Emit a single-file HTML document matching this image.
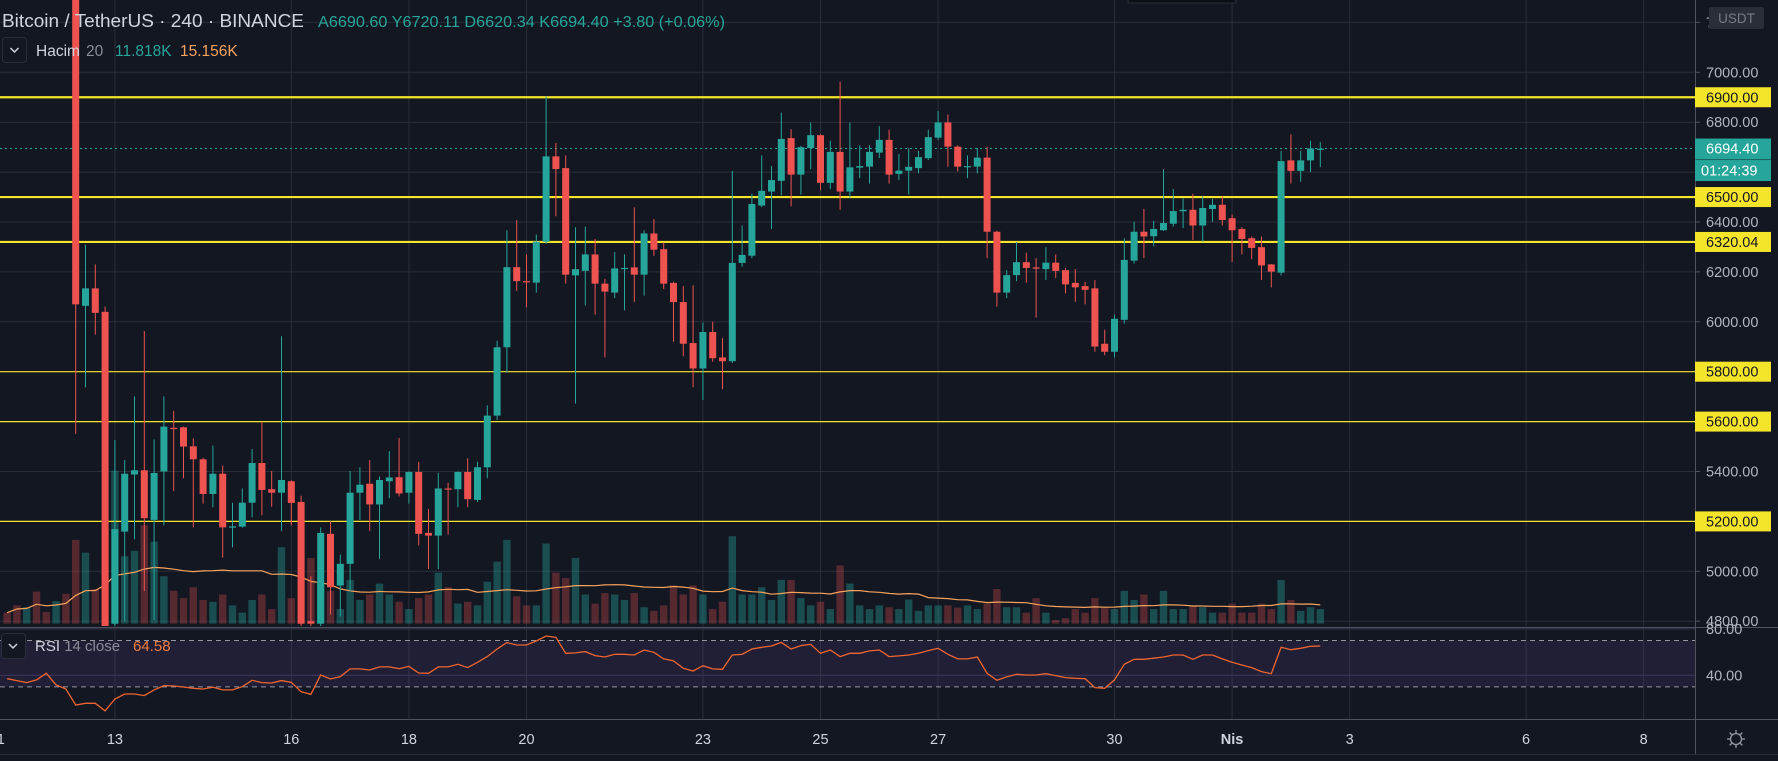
<!DOCTYPE html>
<html><head><meta charset="utf-8"><style>
html,body{margin:0;padding:0;background:#131722;width:1778px;height:761px;overflow:hidden}
svg{display:block;font-family:"Liberation Sans",sans-serif}
</style></head><body>
<svg id="chart" width="1778" height="761" viewBox="0 0 1778 761" xmlns="http://www.w3.org/2000/svg">
<rect x="0" y="0" width="1778" height="761" fill="#131722"/>
<defs>
<clipPath id="mainClip"><rect x="0" y="0" width="1695" height="626"/></clipPath>
<clipPath id="rsiClip"><rect x="0" y="628" width="1695" height="90"/></clipPath>
</defs>
<g id="grid"></g>
<rect x="0" y="640.6" width="1695" height="46.4" fill="#7e57c2" fill-opacity="0.13"/>
<g id="volume" clip-path="url(#mainClip)"></g>
<g id="levels"></g>
<g id="candles" clip-path="url(#mainClip)"></g>
<g id="rsi" clip-path="url(#rsiClip)"></g>
<g id="axes"></g>
<g>
<text x="2" y="27" font-size="18" fill="#d1d4dc" textLength="302" lengthAdjust="spacingAndGlyphs">Bitcoin / TetherUS · 240 · BINANCE</text>
<text x="318" y="27" font-size="15.5" fill="#26a69a" textLength="407" lengthAdjust="spacingAndGlyphs">A6690.60 Y6720.11 D6620.34 K6694.40 +3.80 (+0.06%)</text>
<rect x="2.5" y="37.5" width="24" height="25" rx="3" fill="#131722" stroke="#2a2e39"/>
<path d="M10.5 48 l4 4 l4 -4" stroke="#d1d4dc" stroke-width="1.5" fill="none"/>
<text x="36" y="56" font-size="15.5" fill="#d1d4dc">Hacim</text>
<text x="86" y="56" font-size="15.5" fill="#8a8e99">20</text>
<text x="115" y="56" font-size="15.5" fill="#26a69a">11.818K</text>
<text x="180" y="56" font-size="15.5" fill="#f7a35c">15.156K</text>
<rect x="1128" y="-2" width="108" height="5" fill="#0c0e15" stroke="#2a2e39"/>
</g>
<g>
<rect x="1.5" y="633.5" width="24" height="25" rx="3" fill="#131722" stroke="#2a2e39"/>
<path d="M9 644 l4 4 l4 -4" stroke="#d1d4dc" stroke-width="1.5" fill="none"/>
<text x="35" y="651" font-size="15" fill="#d1d4dc">RSI <tspan fill="#8a8e99">14 close</tspan></text>
<text x="133" y="651" font-size="15" fill="#f57c3b">64.58</text>
</g>
</svg>
<script>
const opens=[7990,7960,7940,7970,7950,7930,7960,
7940,6064,6134,6040,4790,5159,5388,5405,5206,5400,5575,5577,5501,5449,5310,5391,5175,5179,5275,5434,5329,5315,5361,5278,4800,4790,5150,
4943,5030,5315,5351,5268,5361,5377,5315,5398,5154,5143,5332,5329,5398,5286,5417,5624,5898,6219,6163,6157,6321,6663,6616,6186,6204,6270,6153,6117,6211,6218,6189,6354,6291,
6156,6079,5915,5813,5959,5857,5842,6236,6265,6466,6522,6565,6736,6590,6696,6748,6557,6681,6522,6618,6622,6678,6729,6593,6606,6616,6656,6738,6799,6702,6620,6622,6658,6361,
6117,6187,6239,6218,6211,6237,6207,6156,6143,6134,5912,5880,6008,6245,6361,6343,6367,6393,6443,6449,6386,6452,6469,6415,6372,6335,6299,6230,6197,6647,6605,6647,6690];
const highs=[8020,7990,7980,8000,7980,7970,7990,
7980,6309,6230,6061,5526,5446,5701,5963,5529,5701,5643,5580,5533,5455,5504,5424,5274,5332,5490,5599,5402,5942,5365,5303,4980,5176,5201,
5067,5402,5417,5446,5380,5482,5534,5400,5439,5249,5395,5355,5400,5453,5439,5665,5924,6367,6408,6270,6350,6903,6717,6667,6379,6382,6332,6172,6280,6270,6459,6367,6412,6318,
6160,6143,6146,5997,6000,5934,6605,6386,6513,6667,6624,6838,6772,6705,6799,6752,6726,6962,6799,6707,6707,6784,6770,6673,6697,6685,6770,6845,6831,6707,6667,6697,6702,6365,
6207,6320,6277,6255,6299,6270,6216,6211,6160,6167,5968,6029,6335,6401,6452,6405,6612,6532,6495,6513,6503,6493,6503,6430,6379,6342,6342,6232,6685,6751,6685,6726,6720];
const lows=[7930,7910,7900,7930,7900,7890,7910,
5551,5737,5949,4700,4750,4800,5128,4921,4805,5184,5322,5373,5176,5271,5257,5055,5096,5175,5216,5225,5259,5162,5184,4740,4750,4760,4827,
4819,4921,5206,5162,5050,5293,5300,5271,5104,5009,5009,5147,5257,5257,5278,5373,5606,5796,6124,6058,6117,6313,6423,6153,5672,6066,6029,5857,6095,6046,6080,6105,6265,6131,
5920,5862,5738,5687,5840,5730,5835,6221,6255,6459,6372,6507,6463,6510,6612,6528,6532,6449,6498,6576,6554,6656,6554,6568,6510,6595,6648,6729,6622,6603,6576,6595,6255,6061,
6095,6163,6157,6017,6168,6175,6114,6080,6070,5880,5866,5857,5993,6233,6255,6303,6364,6382,6376,6328,6321,6401,6386,6240,6270,6251,6168,6138,6186,6554,6561,6600,6620];
const closes=[7960,7940,7970,7950,7930,7960,7940,
6070,6134,6036,4780,5169,5391,5405,5213,5394,5580,5570,5500,5449,5310,5391,5176,5180,5275,5434,5326,5315,5366,5274,4790,4790,5154,4936,
5030,5315,5347,5268,5366,5376,5312,5398,5150,5143,5332,5328,5398,5289,5417,5624,5898,6219,6163,6158,6321,6663,6612,6189,6211,6270,6153,6121,6214,6216,6189,6354,6289,6153,
6079,5912,5813,5959,5854,5842,6236,6268,6472,6525,6568,6733,6590,6700,6748,6557,6681,6522,6619,6624,6681,6729,6590,6606,6621,6660,6740,6799,6702,6622,6624,6658,6361,6117,
6187,6239,6216,6213,6237,6204,6150,6138,6128,5901,5880,6012,6248,6361,6342,6372,6396,6444,6449,6386,6456,6469,6408,6367,6332,6296,6226,6201,6644,6605,6647,6695,6694];
const volumes=[3,5,4.5,8.8,3.2,6.2,8.2,
23,19.5,9.5,26,42,18.5,20,27,22.5,13,9,7,10,6.5,6,8,5,3,6.5,8,4,21,7,12,18,11,9,
4,12,6.5,8,11,8,6,4,7,8,14,10,5.5,6,5,11.5,17,23,7.5,5,5,22,14,12.5,18,8,5.5,8.4,8,6.5,8.4,4.5,3.5,5,
10.5,8,10.5,8,4,6,24,8,8,10,6.5,12,12,7,5,6,4,16,11,5,4,5,4.5,4,6.6,3.5,5,5,5,4.4,5,4,5.5,9.5,
4.5,4.5,3,7,3,1,1.5,4,3,7,4.5,4,9,6.5,8,4,9,4,4,5,4.5,3,3,5.5,3,3,5.5,4,12,6.5,3.5,4.5,4];
const rsiValues=[37.1,35.4,33.7,36.0,41.7,31.7,28.2,
14.4,15.9,15.9,9.3,19.6,23.9,23.9,22.5,27.4,31.1,30.8,29.9,28.8,28.2,29.7,27.4,27.4,30.2,35.7,33.7,33.4,35.4,34.0,25.9,23.6,40.3,36.8,
38.9,45.5,45.5,44.6,47.2,47.2,45.7,47.8,42.0,41.7,47.2,47.2,49.5,46.6,51.2,56.1,62.7,68.2,66.1,66.1,69.6,73.9,72.8,59.0,59.3,60.4,57.0,55.8,58.1,58.1,57.5,61.8,59.8,54.1,
52.4,46.0,43.7,48.3,45.5,45.2,57.5,58.1,62.7,64.1,65.3,68.4,62.7,65.6,66.7,59.0,61.8,56.1,59.0,59.0,61.0,61.8,56.1,56.7,57.5,59.0,61.3,63.3,58.1,54.1,54.1,55.8,41.7,35.7,
38.6,40.9,40.3,40.3,41.4,39.7,38.0,37.4,37.1,29.4,28.8,36.0,49.5,53.8,53.8,54.7,55.8,57.5,57.5,53.8,57.5,57.5,54.1,51.2,48.9,46.6,43.2,41.4,64.1,62.1,63.3,65.0,65.3];
const priceTicks=[7200,7000,6800,6400,6200,6000,5400,5000,4800];
const gridPrices=[7200,7000,6800,6600,6400,6200,6000,5800,5600,5400,5200,5000,4800];
const levelPrices=[6900,6500,6320.04,5800,5600,5200];
const levelLabels=["6900.00","6500.00","6320.04","5800.00","5600.00","5200.00"];
const rsiTicks=[80,40];
const dayLabels=["11","13","16","18","20","23","25","27","30","Nis","3","6","8"];
const dayOffsets=[-2,0,3,5,7,10,12,14,17,19,21,24,26];
const lastPrice=6694.40;
const PRE=7;

const NS="http://www.w3.org/2000/svg";
function xOf(j){return 75.7+9.8*(j-PRE);}
function xDay(d){return 114.9+58.8*d;}
function yP(p){return 72.3+(7000-p)*0.2495;}
function yV(v){return 623.6-v*3.64;}
function yR(r){return 675.3-(r-40)*1.16;}
function mk(tag,parent,attrs){const e=document.createElementNS(NS,tag);for(const k in attrs)e.setAttribute(k,attrs[k]);parent.appendChild(e);return e;}

const grid=document.getElementById('grid');
gridPrices.forEach(p=>{
  const l=mk('line',grid,{x1:0,x2:1695,y1:yP(p),y2:yP(p),stroke:'#2a2e39','stroke-width':1});
  
  
});
rsiTicks.forEach(r=>{
  const l=mk('line',grid,{x1:0,x2:1695,y1:yR(r),y2:yR(r),stroke:'#3a3550','stroke-width':1});
  
  
});
dayOffsets.forEach(d=>{
  const l=mk('line',grid,{x1:xDay(d),x2:xDay(d),y1:0,y2:719,stroke:'#2a2e39','stroke-width':1});
  
  
});

const vg=document.getElementById('volume');
volumes.forEach((v,j)=>{
  const up=closes[j]>=opens[j];
  const r=mk('rect',vg,{x:xOf(j)-3.7,y:yV(v),width:7.4,height:623.6-yV(v),fill:up?'#26a69a':'#ef5350','fill-opacity':up?0.38:0.3});
  
  
});
let maPts=[];
volumes.forEach((v,j)=>{const s=Math.max(0,j-19);let sum=0;for(let k=s;k<=j;k++)sum+=volumes[k];maPts.push(xOf(j).toFixed(1)+','+yV(sum/(j-s+1)).toFixed(1));});
const ma=mk('polyline',vg,{points:maPts.join(' '),fill:'none',stroke:'#f7a35c','stroke-width':1.2});



const lg=document.getElementById('levels');
levelPrices.forEach((p,k)=>{
  const w=(p===6900||p===6500||p===6320.04)?2.2:1.2;
  const l=mk('line',lg,{x1:0,x2:1695,y1:yP(p),y2:yP(p),stroke:'#f5e52a','stroke-width':w});
  
  
});
const cp=mk('line',lg,{x1:0,x2:1695,y1:yP(lastPrice),y2:yP(lastPrice),stroke:'#26a69a','stroke-width':1,'stroke-dasharray':'2 3'});



const cg=document.getElementById('candles');
opens.forEach((o,j)=>{
  const c=closes[j],up=c>=o,col=up?'#26a69a':'#ef5350',x=xOf(j);
  const w=mk('line',cg,{x1:x,x2:x,y1:yP(highs[j]),y2:yP(lows[j]),stroke:col,'stroke-width':1});
  
  
  const top=yP(Math.max(o,c)),h=Math.max(1.2,yP(Math.min(o,c))-top);
  const b=mk('rect',cg,{x:x-3.5,y:top,width:7,height:h,fill:col});
  
  
});

const rg=document.getElementById('rsi');
[70,30].forEach(r=>{
  const l=mk('line',rg,{x1:0,x2:1695,y1:yR(r),y2:yR(r),stroke:'#9598a1','stroke-width':1,'stroke-dasharray':'5 4'});
  
  
});
const rp=mk('polyline',rg,{points:rsiValues.map((r,j)=>xOf(j).toFixed(1)+','+yR(r).toFixed(1)).join(' '),fill:'none',stroke:'#f0652f','stroke-width':1.3});



const ag=document.getElementById('axes');
function ln(x1,y1,x2,y2,c,name){const l=mk('line',ag,{x1,y1,x2,y2,stroke:c,'stroke-width':1});}
ln(1695.5,0,1695.5,754,'#50535e','price-axis-border');
ln(0,627.5,1778,627.5,'#50535e','pane-separator');
ln(0,719.5,1778,719.5,'#50535e','time-axis-border');
ln(0,754.5,1778,754.5,'#2a2e39','bottom-border');
priceTicks.forEach(p=>{
  const t=mk('text',ag,{x:1706,y:yP(p)+5,'font-size':14.5,fill:'#b2b5be'});
  t.textContent=p.toFixed(2);
  
  
  ln(1695,yP(p),1700,yP(p),'#50535e','price-tick');
});
rsiTicks.forEach(r=>{
  const t=mk('text',ag,{x:1706,y:yR(r)+5,'font-size':14.5,fill:'#b2b5be'});
  t.textContent=r.toFixed(2);
  
  
});
levelPrices.forEach((p,k)=>{
  const r=mk('rect',ag,{x:1695,y:yP(p)-10,width:76,height:20,fill:'#f5e52a'});
  
  
  const t=mk('text',ag,{x:1706,y:yP(p)+5,'font-size':14.5,fill:'#131722'});
  t.textContent=levelLabels[k];
  
  
});
const lp=mk('rect',ag,{x:1695,y:yP(lastPrice)-10,width:76,height:21,fill:'#26a69a'});


const lpt=mk('text',ag,{x:1706,y:yP(lastPrice)+5,'font-size':14.5,fill:'#ffffff'});
lpt.textContent=lastPrice.toFixed(2);


const cd=mk('rect',ag,{x:1695,y:yP(lastPrice)+11.5,width:76,height:21,fill:'#26a69a'});


const cdt=mk('text',ag,{x:1701,y:yP(lastPrice)+27,'font-size':14.5,fill:'#ffffff'});
cdt.textContent='01:24:39';


const ub=mk('rect',ag,{x:1709,y:7,width:55,height:22,rx:2,fill:'#2a2e39'});


const ut=mk('text',ag,{x:1736.5,y:23,'font-size':13.5,fill:'#787b86','text-anchor':'middle'});
ut.textContent='USDT';


dayOffsets.forEach((d,k)=>{
  const t=mk('text',ag,{x:xDay(d),y:744,'font-size':14.5,fill:'#d1d4dc','text-anchor':'middle','font-weight':dayLabels[k]==='Nis'?'bold':'normal'});
  t.textContent=dayLabels[k];
  
  
});
const gear=mk('g',ag,{stroke:'#9598a1','stroke-width':1.3,fill:'none'});


mk('circle',gear,{cx:1736,cy:739,r:5.5});
for(let a=0;a<8;a++){const an=a*Math.PI/4;mk('line',gear,{x1:1736+6*Math.cos(an),y1:739+6*Math.sin(an),x2:1736+9*Math.cos(an),y2:739+9*Math.sin(an)});}
</script>
</body></html>
